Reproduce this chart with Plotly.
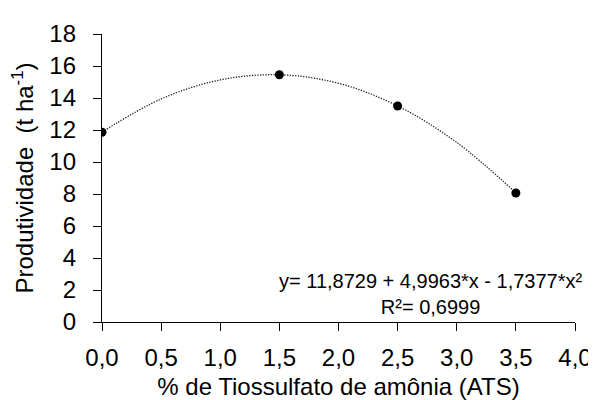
import plotly.graph_objects as go

# observed points
ats = [0.0, 1.5, 2.5, 3.5]
produtividade = [11.86, 15.45, 13.5, 8.06]

# dotted trend curve at several x positions
trend_x = [0.0, 0.5, 1.0, 1.5, 2.0, 2.5, 3.0, 3.5]
trend_y = [11.87, 13.94, 15.13, 15.45, 14.92, 13.5, 11.22, 8.07]

x_ticks = [0, 0.5, 1.0, 1.5, 2.0, 2.5, 3.0, 3.5, 4.0]
y_ticks = [0, 2, 4, 6, 8, 10, 12, 14, 16, 18]

eq_text = "y= 11,8729 + 4,9963*x - 1,7377*x²<br>R²= 0,6999"

FONT = "Liberation Sans, Arial, sans-serif"

fig = go.Figure()
fig.add_trace(go.Scatter(
    x=trend_x, y=trend_y, mode="lines",
    line=dict(color="#222222", width=1.3, dash="1.3px,1.4px", shape="spline", smoothing=1.0),
    hoverinfo="skip", showlegend=False,
))
fig.add_trace(go.Scatter(
    x=ats, y=produtividade, mode="markers",
    marker=dict(color="black", size=9),
    showlegend=False,
))

axis_common = dict(
    showgrid=False, zeroline=False, showline=True, linecolor="black", linewidth=1.3,
    ticks="outside", ticklen=8, tickwidth=1.3, tickcolor="black",
    tickfont=dict(family=FONT, size=24, color="black"),
)

fig.update_xaxes(
    range=[0, 4], tickvals=x_ticks, tickformat=".1f",
    title=dict(text="% de Tiossulfato de amônia (ATS)", font=dict(family=FONT, size=24, color="black"), standoff=8),
    ticklabelstandoff=6,
    **axis_common,
)
fig.update_yaxes(
    range=[0, 18], tickvals=y_ticks,
    title=dict(text="Produtividade  (t ha<sup>-1</sup>)", font=dict(family=FONT, size=24, color="black"), standoff=9),
    ticklabelstandoff=12,
    **axis_common,
)

fig.add_annotation(
    xref="paper", yref="paper", x=1.021, y=0.097, xanchor="right", yanchor="middle",
    text=eq_text, showarrow=False, align="center",
    font=dict(family=FONT, size=20, color="black"),
)

fig.update_layout(
    width=596, height=400,
    margin=dict(l=94, r=23, t=21, b=79),
    plot_bgcolor="white", paper_bgcolor="white",
    separators=", ",
    font=dict(family=FONT, color="black"),
)

fig.write_html("out.html")
